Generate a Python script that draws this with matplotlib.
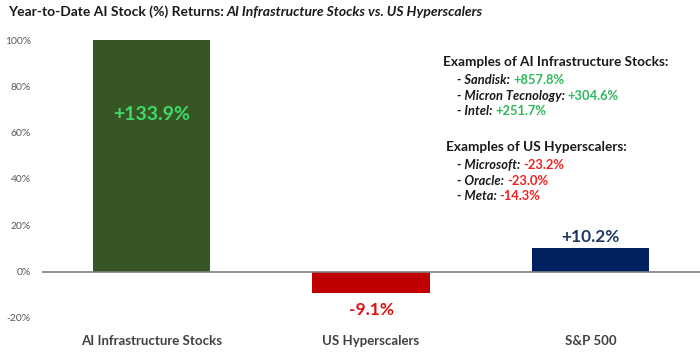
import matplotlib
matplotlib.use("Agg")
import matplotlib.pyplot as plt

categories = ["AI Infrastructure Stocks", "US Hyperscalers", "S&P 500"]
returns = [133.9, -9.1, 10.2]
value_labels = ["+133.9%", "-9.1%", "+10.2%"]
bar_colors = ["#375623", "#C00000", "#002060"]
label_colors = ["#3DDC6A", "#E01010", "#1F3864"]
yticks = [-20, 0, 20, 40, 60, 80, 100]

infra_names = ["Sandisk:", "Micron Tecnology:", "Intel:"]
infra_values = ["+857.8%", "+304.6%", "+251.7%"]
hyper_names = ["Microsoft:", "Oracle:", "Meta:"]
hyper_values = ["-23.2%", "-23.0%", "-14.3%"]

plt.rcParams['font.family'] = ['Lato', 'DejaVu Sans']

fig = plt.figure(figsize=(7.0, 3.58), dpi=100)
ax = fig.add_axes([0.06, 0.112, 0.94, 0.776])
x = list(range(len(categories)))
ax.bar(x, returns, width=0.535, color=bar_colors, zorder=2)
ax.set_xlim(-0.5, 2.5)
ax.set_ylim(-20, 100)
ax.set_yticks(yticks)
ax.set_yticklabels([f"{v}%" for v in yticks], fontsize=7.5, color="#595959")
ax.set_xticks(x)
ax.set_xticklabels(categories, fontsize=9.5, fontweight="bold", color="#404040")
ax.tick_params(axis="y", length=0, pad=8)
ax.tick_params(axis="x", length=0, pad=12)
for s in ["top", "right", "left", "bottom"]:
    ax.spines[s].set_visible(False)
ax.axhline(0, color="#7F7F7F", lw=1.2, zorder=3)

# value labels
ax.text(x[0], 68, value_labels[0], ha="center", va="center", fontsize=14,
        fontweight="bold", color=label_colors[0])
ax.text(x[1], returns[1] - 7.6, value_labels[1], ha="center", va="center",
        fontsize=12.5, fontweight="bold", color=label_colors[1])
ax.text(x[2], returns[2] + 4.9, value_labels[2], ha="center", va="center",
        fontsize=12.5, fontweight="bold", color=label_colors[2])

# title
t1 = fig.text(0.011, 0.955, "Year-to-Date AI Stock (%) Returns: ", fontsize=10,
              fontweight="bold", color="#1a1a1a", va="baseline")
ax.annotate("AI Infrastructure Stocks vs. US Hyperscalers", xy=(1, 0),
            xycoords=t1, va="bottom", ha="left", fontsize=10,
            fontweight="bold", fontstyle="italic", color="#1a1a1a",
            annotation_clip=False)

# examples
green = "#2DB85A"
red = "#F02020"
def block(y0, heading, names, values, vcolor, hx):
    fig.text(hx / 700, 1 - y0 / 358, heading, fontsize=9.8, fontweight="bold",
             color="#1a1a1a", va="center")
    for i, (n, v) in enumerate(zip(names, values)):
        yy = y0 + 22 + 15.7 * i
        t = fig.text(457 / 700, 1 - yy / 358, "- " + n + " ", fontsize=9.3,
                     fontweight="bold", fontstyle="italic", color="#1a1a1a",
                     va="baseline")
        ax.annotate(v, xy=(1, 0), xycoords=t, va="bottom", ha="left",
                    fontsize=9.3, fontweight="bold", color=vcolor,
                    annotation_clip=False)

block(62, "Examples of AI Infrastructure Stocks:", infra_names, infra_values, green, 443)
block(147, "Examples of US Hyperscalers:", hyper_names, hyper_values, red, 446)

fig.savefig("out.png", dpi=100)
